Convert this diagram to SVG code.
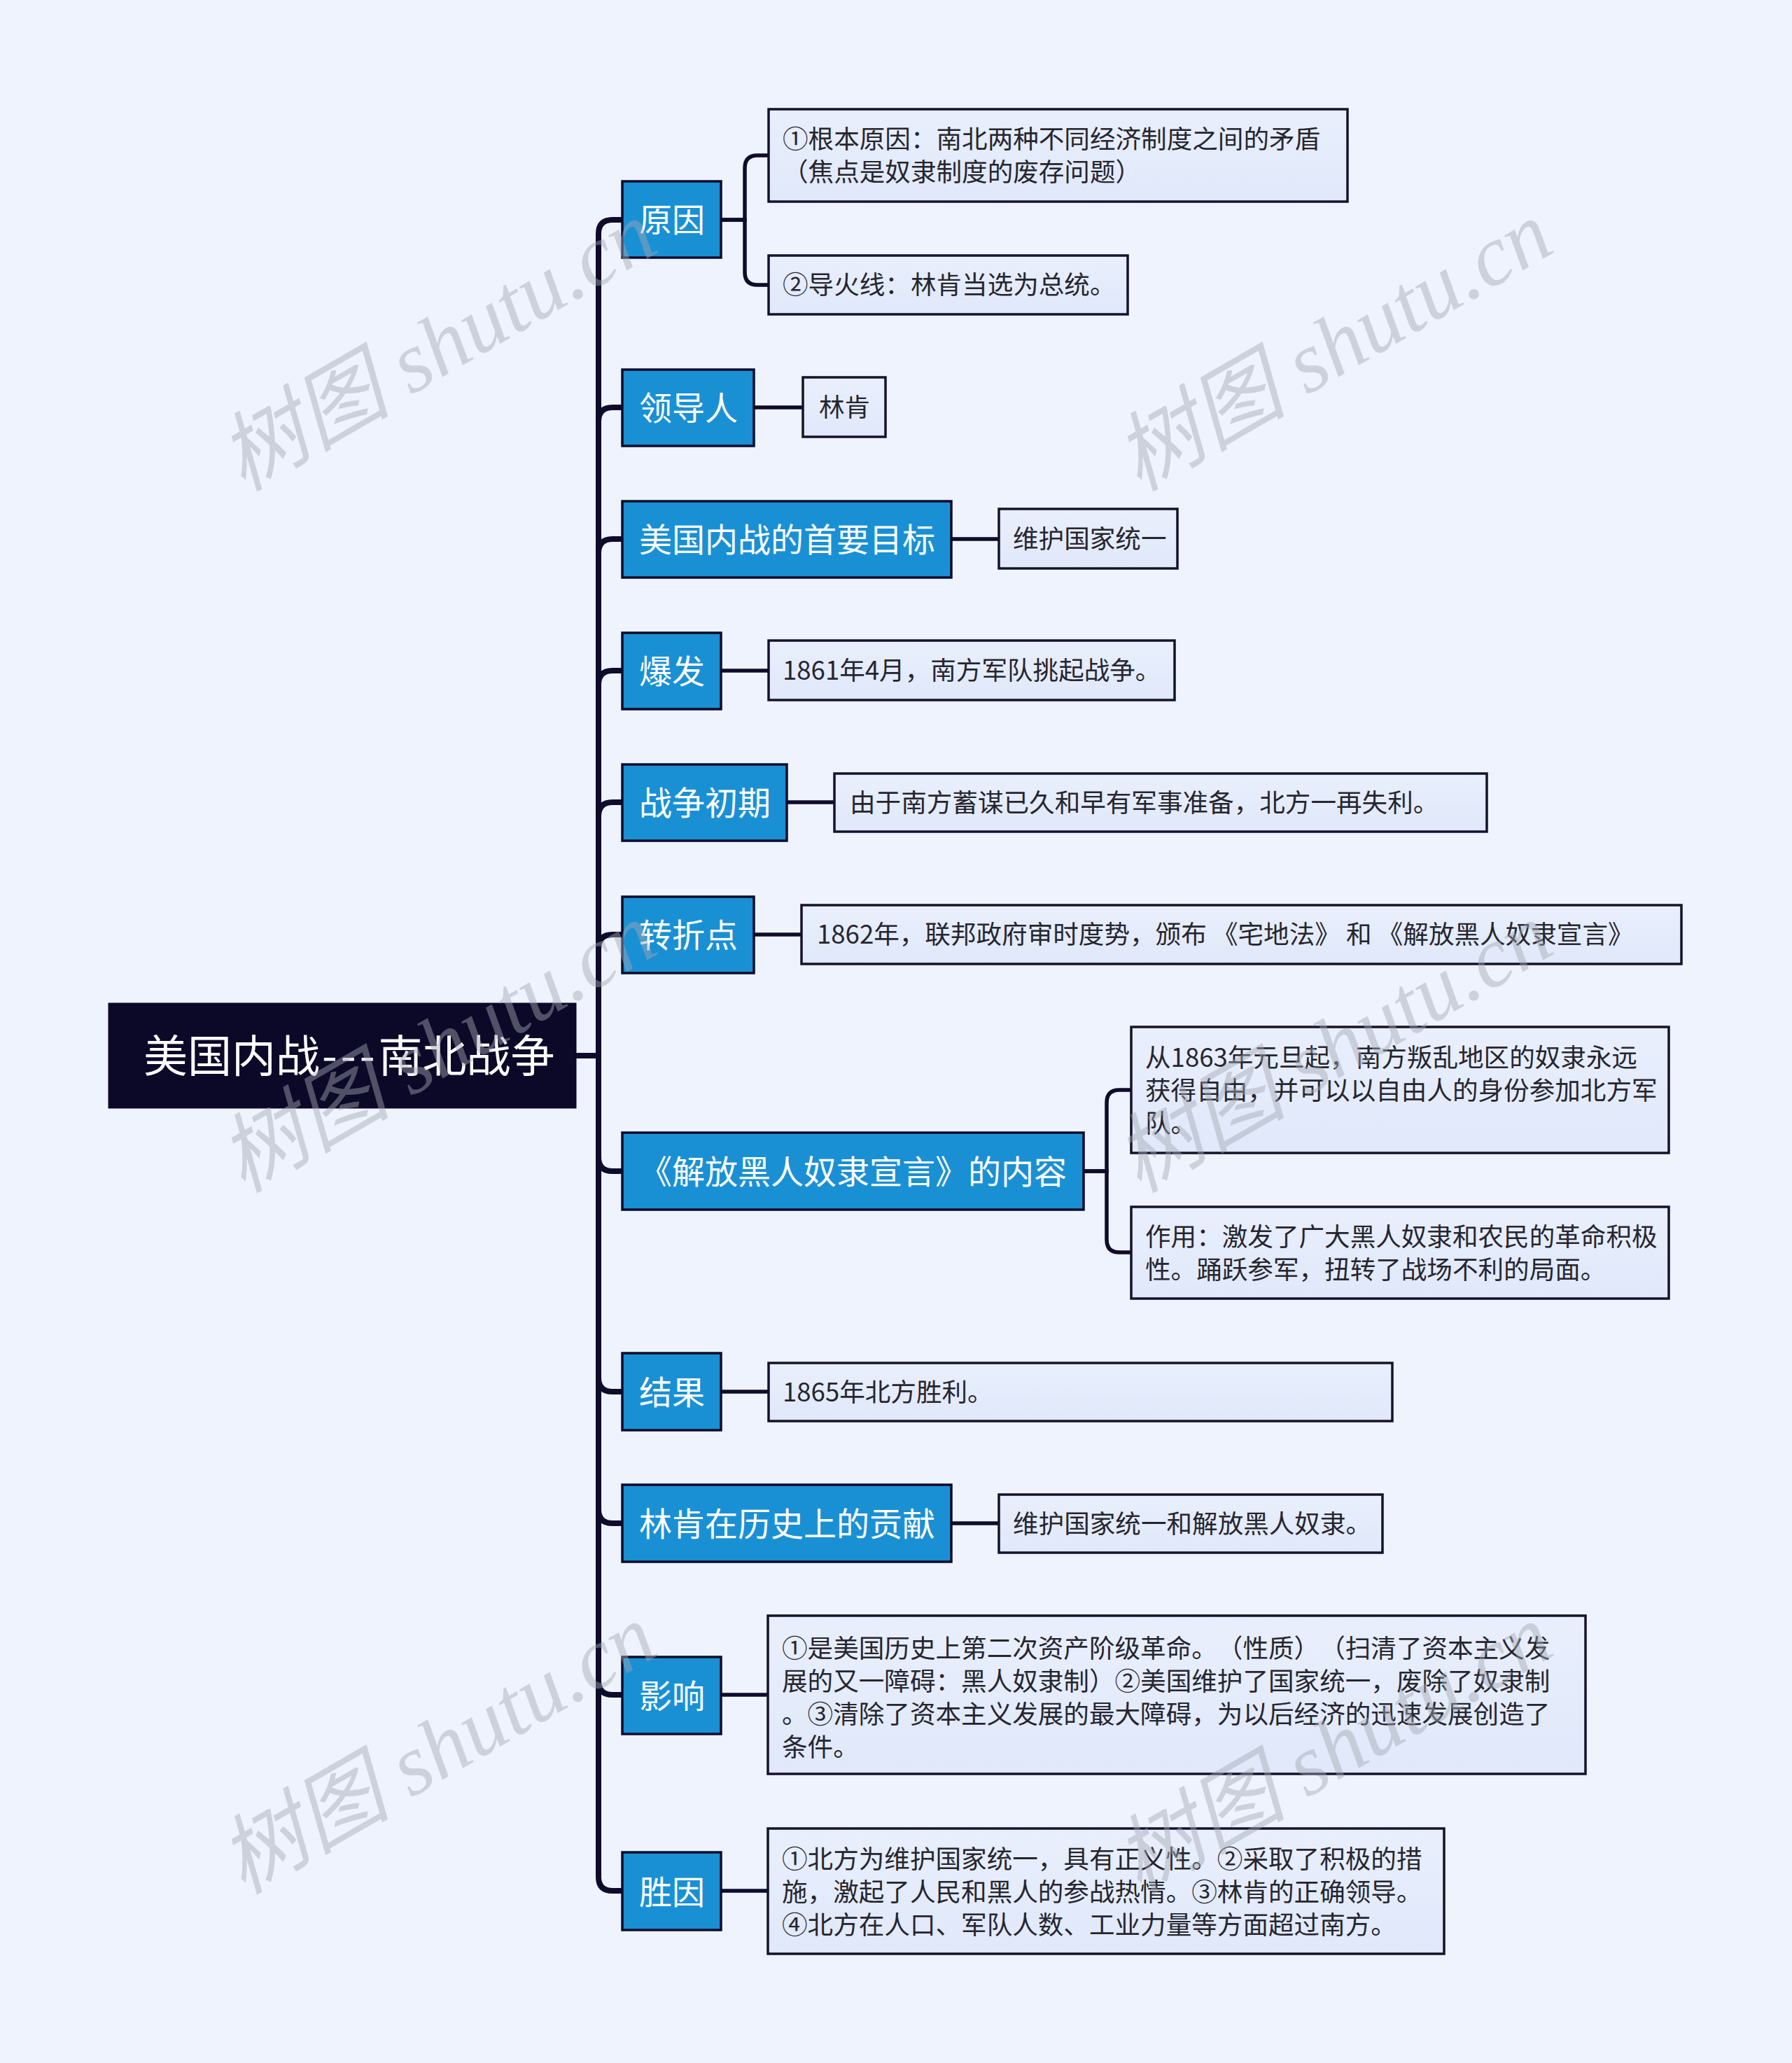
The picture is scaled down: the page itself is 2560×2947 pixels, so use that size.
<svg xmlns="http://www.w3.org/2000/svg" width="2560" height="2947" viewBox="0 0 2560 2947">
<defs>
<linearGradient id="g2" x1="0" y1="0" x2="0" y2="1">
<stop offset="0" stop-color="#e9effc"/>
<stop offset="1" stop-color="#e0e8fa"/>
</linearGradient>
<style>
text{text-spacing-trim:space-all}
.root rect{fill:#0c0828;stroke:#0c0828;stroke-width:3}
.root text{fill:#ffffff;font-family:"Noto Sans CJK SC",sans-serif;font-size:63px}
.l1 rect{fill:#1a90d4;stroke:#0e0b2b;stroke-width:3.5}
.l1 text{fill:#ffffff;font-family:"Noto Sans CJK SC",sans-serif;font-size:47px}
.l2 rect{fill:url(#g2);stroke:#14122c;stroke-width:3.5}
.l2 text{fill:#262630;font-family:"Noto Sans CJK SC",sans-serif;font-size:36.6px}
.c1{fill:none;stroke:#0e0b2b;stroke-width:8}
.c2{fill:none;stroke:#0e0b2b;stroke-width:5.5}
.wm{fill:#a3a8b3;opacity:0.45;font-family:"Liberation Serif","Noto Sans CJK SC",serif;font-style:italic;font-size:123px}
</style>
</defs>
<rect x="0" y="0" width="2560" height="2947" fill="#eef3fe"/>

<g id="connectors">
<path class="c1" d="M822,1508 H855 V334 Q855,314 875,314 H889"/>
<path class="c1" d="M822,1508 H855 V602 Q855,582 875,582 H889"/>
<path class="c1" d="M822,1508 H855 V790 Q855,770 875,770 H889"/>
<path class="c1" d="M822,1508 H855 V978 Q855,958 875,958 H889"/>
<path class="c1" d="M822,1508 H855 V1166 Q855,1146 875,1146 H889"/>
<path class="c1" d="M822,1508 H855 V1355 Q855,1335 875,1335 H889"/>
<path class="c1" d="M822,1508 H855 V1653 Q855,1673 875,1673 H889"/>
<path class="c1" d="M822,1508 H855 V1968 Q855,1988 875,1988 H889"/>
<path class="c1" d="M822,1508 H855 V2156 Q855,2176 875,2176 H889"/>
<path class="c1" d="M822,1508 H855 V2401 Q855,2421 875,2421 H889"/>
<path class="c1" d="M822,1508 H855 V2681 Q855,2701 875,2701 H889"/>

<path class="c2" d="M1030,314 H1064 V240 Q1064,222 1082,222 H1098"/>
<path class="c2" d="M1030,314 H1064 V389 Q1064,407 1082,407 H1098"/>
<path class="c2" d="M1077,582 H1147"/>
<path class="c2" d="M1359,770 H1427"/>
<path class="c2" d="M1030,958 H1098"/>
<path class="c2" d="M1124,1146 H1192"/>
<path class="c2" d="M1077,1335 H1145"/>
<path class="c2" d="M1548,1673 H1581 V1575 Q1581,1557 1599,1557 H1616"/>
<path class="c2" d="M1548,1673 H1581 V1771 Q1581,1789 1599,1789 H1616"/>
<path class="c2" d="M1030,1988 H1098"/>
<path class="c2" d="M1359,2176 H1427"/>
<path class="c2" d="M1030,2421 H1097"/>
<path class="c2" d="M1030,2701 H1097"/>
</g>

<g id="root" class="root">
<rect x="156" y="1434" width="666" height="148"/>
<text x="205" y="1531">美国内战<tspan dx="3" letter-spacing="5">---</tspan>南北战争</text>
</g>

<g id="n-yuanyin" class="l1"><rect x="889" y="259" width="141" height="109"/><text x="913" y="331">原因</text></g>
<g id="n-lingdaoren" class="l1"><rect x="889" y="528" width="188" height="109"/><text x="913" y="600">领导人</text></g>
<g id="n-mubiao" class="l1"><rect x="889" y="716" width="470" height="109"/><text x="913" y="788">美国内战的首要目标</text></g>
<g id="n-baofa" class="l1"><rect x="889" y="904" width="141" height="109"/><text x="913" y="976">爆发</text></g>
<g id="n-chuqi" class="l1"><rect x="889" y="1092" width="235" height="109"/><text x="913" y="1164">战争初期</text></g>
<g id="n-zhuanzhe" class="l1"><rect x="889" y="1281" width="188" height="109"/><text x="913" y="1353">转折点</text></g>
<g id="n-xuanyan" class="l1"><rect x="889" y="1618" width="659" height="110"/><text x="913" y="1691">《解放黑人奴隶宣言》的内容</text></g>
<g id="n-jieguo" class="l1"><rect x="889" y="1933" width="141" height="110"/><text x="913" y="2006">结果</text></g>
<g id="n-gongxian" class="l1"><rect x="889" y="2121" width="470" height="110"/><text x="913" y="2194">林肯在历史上的贡献</text></g>
<g id="n-yingxiang" class="l1"><rect x="889" y="2367" width="141" height="110"/><text x="913" y="2440">影响</text></g>
<g id="n-shengyin" class="l1"><rect x="889" y="2646" width="141" height="111"/><text x="913" y="2720">胜因</text></g>

<g id="n-genben" class="l2"><rect x="1098" y="156" width="827" height="132"/>
<text x="1118" y="212">①根本原因：南北两种不同经济制度之间的矛盾</text>
<text x="1118" y="259">（焦点是奴隶制度的废存问题）</text></g>
<g id="n-daohuoxian" class="l2"><rect x="1098" y="365" width="513" height="84"/>
<text x="1118" y="420">②导火线：林肯当选为总统。</text></g>
<g id="n-linken" class="l2"><rect x="1147" y="539" width="118" height="85"/>
<text x="1170" y="595">林肯</text></g>
<g id="n-tongyi" class="l2"><rect x="1427" y="727" width="255" height="85"/>
<text x="1447" y="783">维护国家统一</text></g>
<g id="n-1861" class="l2"><rect x="1098" y="915" width="580" height="85"/>
<text x="1118" y="971">1861年4月，南方军队挑起战争。</text></g>
<g id="n-shili" class="l2"><rect x="1192" y="1105" width="932" height="83"/>
<text x="1214" y="1160">由于南方蓄谋已久和早有军事准备，北方一再失利。</text></g>
<g id="n-1862" class="l2"><rect x="1145" y="1293" width="1257" height="84"/>
<text x="1167" y="1348">1862年，联邦政府审时度势，颁布 《宅地法》 和 《解放黑人奴隶宣言》</text></g>
<g id="n-1863" class="l2"><rect x="1616" y="1467" width="768" height="180"/>
<text x="1636" y="1524">从1863年元旦起，南方叛乱地区的奴隶永远</text>
<text x="1636" y="1571">获得自由，并可以以自由人的身份参加北方军</text>
<text x="1636" y="1618">队。</text></g>
<g id="n-zuoyong" class="l2"><rect x="1616" y="1724" width="768" height="131"/>
<text x="1636" y="1780">作用：激发了广大黑人奴隶和农民的革命积极</text>
<text x="1636" y="1827">性。踊跃参军，扭转了战场不利的局面。</text></g>
<g id="n-1865" class="l2"><rect x="1098" y="1947" width="891" height="83"/>
<text x="1118" y="2002">1865年北方胜利。</text></g>
<g id="n-jiefang" class="l2"><rect x="1427" y="2135" width="548" height="83"/>
<text x="1447" y="2190">维护国家统一和解放黑人奴隶。</text></g>
<g id="n-yingxiang-c" class="l2"><rect x="1097" y="2308" width="1168" height="226"/>
<text x="1117" y="2368">①是美国历史上第二次资产阶级革命。（性质）（扫清了资本主义发</text>
<text x="1117" y="2415">展的又一障碍：黑人奴隶制）②美国维护了国家统一，废除了奴隶制</text>
<text x="1117" y="2462">。③清除了资本主义发展的最大障碍，为以后经济的迅速发展创造了</text>
<text x="1117" y="2509">条件。</text></g>
<g id="n-shengyin-c" class="l2"><rect x="1097" y="2612" width="966" height="179"/>
<text x="1117" y="2669">①北方为维护国家统一，具有正义性。②采取了积极的措</text>
<text x="1117" y="2716">施，激起了人民和黑人的参战热情。③林肯的正确领导。</text>
<text x="1117" y="2763">④北方在人口、军队人数、工业力量等方面超过南方。</text></g>

<g id="watermarks">
<text class="wm" x="347" y="703" transform="rotate(-30 347 703)">树图 shutu.cn</text>
<text class="wm" x="1627" y="703" transform="rotate(-30 1627 703)">树图 shutu.cn</text>
<text class="wm" x="347" y="1705" transform="rotate(-30 347 1705)">树图 shutu.cn</text>
<text class="wm" x="1627" y="1705" transform="rotate(-30 1627 1705)">树图 shutu.cn</text>
<text class="wm" x="347" y="2707" transform="rotate(-30 347 2707)">树图 shutu.cn</text>
<text class="wm" x="1627" y="2707" transform="rotate(-30 1627 2707)">树图 shutu.cn</text>
</g>
</svg>
